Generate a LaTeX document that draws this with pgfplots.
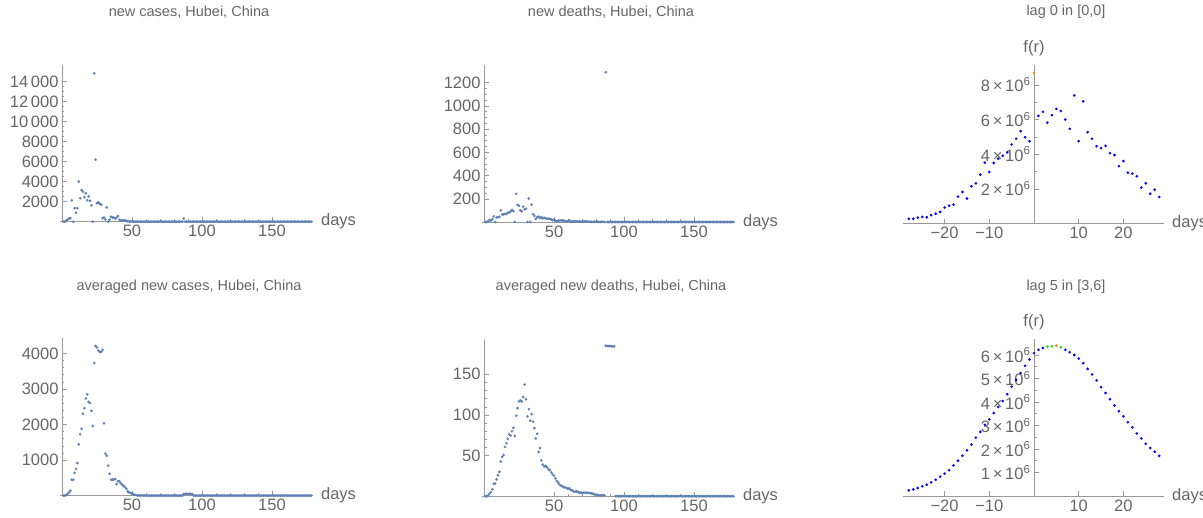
\documentclass[border=0pt]{standalone}
\usepackage{pgfplots}
\pgfplotsset{compat=1.18}
\usepackage{pgfplotstable}
\usepackage{fontspec}
\setmainfont{Liberation Sans}
\definecolor{mblue}{rgb}{0.368417,0.506779,0.709798}
\definecolor{tgray}{rgb}{0.4,0.4,0.4}
\definecolor{agray}{rgb}{0.6,0.6,0.6}
\definecolor{morange}{rgb}{1,0.5,0}
\definecolor{mgreen}{rgb}{0.1,0.85,0.1}
\newcommand{\sci}[1]{#1\,×\,10\textsuperscript{6}}

\pgfplotstableread{
d c k ac ak
1 0 0 0 0
2 0 0 0 0
3 105 7 15 1.0
4 212 16 45 3.3
5 297 12 88 5.0
6 365 24 140 8.4
7 2131 49 444 15.4
8 0 0 444 15.4
9 1349 37 637 20.7
10 903 42 751 25.7
11 1347 45 913 29.9
12 4024 101 1446 42.6
13 2345 64 1728 48.3
14 3156 65 1875 50.6
15 2987 70 2302 60.6
16 2447 69 2458 65.1
17 2841 81 2735 70.7
18 2147 81 2850 75.9
19 2531 91 2636 74.4
20 2097 103 2601 80.0
21 1638 94 2384 84.1
22 0 0 1957 74.1
23 14840 242 3728 98.9
24 6200 147 4208 108.3
25 1843 139 4164 116.6
26 1933 100 4079 117.9
27 1807 93 4037 116.4
28 1693 132 4045 121.9
29 349 108 4095 137.3
30 411 115 2034 119.1
31 220 0 1179 98.1
32 1422 202 1119 107.1
33 0 0 843 92.9
34 203 149 614 100.9
35 499 68 443 91.7
36 401 52 451 83.7
37 409 26 451 71.0
38 318 41 465 76.9
39 423 45 322 54.4
40 570 34 403 59.3
41 196 42 402 44.0
42 114 32 347 38.9
43 115 36 306 36.6
44 134 31 267 37.3
45 126 29 240 35.6
46 74 28 190 33.1
47 41 27 114 32.1
48 17 22 89 29.3
49 13 16 74 27.0
50 8 22 59 25.0
51 5 10 41 22.0
52 4 6 23 18.7
53 4 13 13 16.6
54 4 10 8 14.1
55 1 14 5.6 13.0
56 1 12 3.9 12.4
57 0 11 2.7 10.9
58 0 8 2.0 10.6
59 0 3 1.4 10.1
60 0 6 0.9 9.1
61 0 14 0.3 9.7
62 0 0 0.1 7.7
63 0 7 0 7.0
64 0 3 0 5.9
65 0 6 0 5.6
66 0 5 0 5.9
67 0 3 0 5.4
68 0 5 0 4.1
69 0 4 0 4.7
70 0 1 0 3.9
71 0 6 0 4.3
72 0 6 0 4.3
73 0 4 0 4.1
74 0 4 0 4.3
75 0 3 0 4.0
76 0 2 0 3.7
77 0 0 0 3.6
78 0 1 0 2.9
79 0 2 0 2.3
80 0 1 0 1.9
81 0 3 0 1.7
82 0 0 0 1.3
83 0 0 0 1.0
84 0 2 0 1.3
85 0 1 0 1.3
86 0 0 0 1.0
87 325 1290 46.4 185.1
88 0 0 46.4 184.7
89 0 0 46.4 184.7
90 0 0 46.4 184.7
91 0 0 46.4 184.4
92 0 0 46.4 184.3
93 0 0 46.4 184.3
94 0 0 0 0
95 0 0 0 0
96 0 0 0 0
97 0 0 0 0
98 0 0 0 0
99 0 0 0 0
100 0 0 0 0
101 0 0 0 0
102 0 0 0 0
103 0 0 0 0
104 0 0 0 0
105 0 0 0 0
106 0 0 0 0
107 0 0 0 0
108 0 0 0 0
109 0 0 0 0
110 0 0 0 0
111 0 0 0 0
112 0 0 0 0
113 0 0 0 0
114 0 0 0 0
115 0 0 0 0
116 0 0 0 0
117 0 0 0 0
118 0 0 0 0
119 0 0 0 0
120 0 0 0 0
121 0 0 0 0
122 0 0 0 0
123 0 0 0 0
124 0 0 0 0
125 0 0 0 0
126 0 0 0 0
127 0 0 0 0
128 0 0 0 0
129 0 0 0 0
130 0 0 0 0
131 0 0 0 0
132 0 0 0 0
133 0 0 0 0
134 0 0 0 0
135 0 0 0 0
136 0 0 0 0
137 0 0 0 0
138 0 0 0 0
139 0 0 0 0
140 0 0 0 0
141 0 0 0 0
142 0 0 0 0
143 0 0 0 0
144 0 0 0 0
145 0 0 0 0
146 0 0 0 0
147 0 0 0 0
148 0 0 0 0
149 0 0 0 0
150 0 0 0 0
151 0 0 0 0
152 0 0 0 0
153 0 0 0 0
154 0 0 0 0
155 0 0 0 0
156 0 0 0 0
157 0 0 0 0
158 0 0 0 0
159 0 0 0 0
160 0 0 0 0
161 0 0 0 0
162 0 0 0 0
163 0 0 0 0
164 0 0 0 0
165 0 0 0 0
166 0 0 0 0
167 0 0 0 0
168 0 0 0 0
169 0 0 0 0
170 0 0 0 0
171 0 0 0 0
172 0 0 0 0
173 0 0 0 0
174 0 0 0 0
175 0 0 0 0
176 0 0 0 0
177 0 0 0 0
178 0 0 0 0
}\hubei

\pgfplotsset{
 mma/.style={
  axis lines=middle,
  axis line style={agray, line width=0.6pt, -},
  every inner x axis line/.append style={-},
  every inner y axis line/.append style={-},
  tick align=inside,
  major tick length=4.5pt, minor tick length=2.5pt,
  tick style={agray, line width=0.5pt},
  tick label style={font=\fontsize{16.5}{16.5}\selectfont, text=tgray},
  /pgf/number format/assume math mode=true,
  /pgf/number format/1000 sep={},
  scaled x ticks=false, scaled y ticks=false,
  clip=false,
  anchor=origin,
  xlabel=days,
  every axis x label/.style={at={(axis description cs:1,0)}, anchor=west, font=\fontsize{16.5}{16.5}\selectfont, text=tgray, xshift=5pt},
 },
 dayax/.style={x=1.4pt, xmin=-1.5, xmax=179, ymin=0, xtick={50,100,150}, minor x tick num=4},
 lagax/.style={x=4.47pt, xmin=-29.3, xmax=29, ymin=0, xtick={-20,-10,10,20},
  xticklabels={−20,−10,10,20}, minor x tick num=4,
  ylabel={f(r)},
  every axis y label/.style={at={(axis cs:0,#1)}, anchor=south, font=\fontsize{16.5}{16.5}\selectfont, text=tgray, yshift=5pt}},
 dots/.style={only marks, mark=*, mark size=1.3pt, color=#1, mark options={draw=#1, fill=#1, line width=0.1pt}},
 dots/.default=mblue,
}

\begin{document}
\begin{tikzpicture}
\path[use as bounding box] (0pt,0pt) rectangle (1203pt,518pt);

% top left
\begin{axis}[mma, dayax, at={(62pt,296.3pt)}, y=0.01pt, ymax=15700,
  ytick={2000,4000,6000,8000,10000,12000,14000},
  yticklabels={2000,4000,6000,8000,10\,000,12\,000,14\,000}, minor y tick num=3]
\addplot[dots] table[x=d,y=c]{\hubei};
\end{axis}

% top middle
\begin{axis}[mma, dayax, at={(484pt,296pt)}, y=0.1161pt, ymax=1352,
  ytick={200,400,600,800,1000,1200}, minor y tick num=3]
\addplot[dots] table[x=d,y=k]{\hubei};
\end{axis}

% top right
\begin{axis}[mma, lagax=9.15, at={(1034pt,294.5pt)}, y=17.33pt, ymax=9.15,
  ytick={2,4,6,8}, yticklabels={\sci{2},\sci{4},\sci{6},\sci{8}}, minor y tick num=1]
\addplot[dots=blue] coordinates {(-28,0.27)(-27,0.27)(-26,0.34)(-25,0.38)(-24,0.36)(-23,0.48)(-22,0.56)(-21,0.67)(-20,0.92)(-19,1.03)(-18,1.09)(-17,1.55)(-16,1.82)(-15,1.44)(-14,2.15)(-13,2.32)(-12,2.82)(-11,3.51)(-10,2.97)(-9,3.49)(-8,3.74)(-7,3.91)(-6,4.10)(-5,4.56)(-4,4.89)(-3,5.33)(-2,4.98)(-1,4.75)(1,6.21)(2,6.44)(3,5.82)(4,6.25)(5,6.61)(6,6.49)(7,6.00)(8,5.46)(9,7.39)(10,4.75)(11,7.05)(12,5.27)(13,4.89)(14,4.46)(15,4.35)(16,4.48)(17,4.06)(18,3.95)(19,3.31)(20,3.60)(21,2.93)(22,2.88)(23,2.72)(24,2.07)(25,2.32)(26,1.72)(27,1.95)(28,1.53)};
\addplot[dots=morange] coordinates {(0,8.68)};
\end{axis}

% bottom left
\begin{axis}[mma, dayax, at={(62pt,22.4pt)}, y=0.03556pt, ymax=4432,
  ytick={1000,2000,3000,4000}, minor y tick num=4]
\addplot[dots] table[x=d,y=ac]{\hubei};
\end{axis}

% bottom middle
\begin{axis}[mma, dayax, at={(484pt,21.8pt)}, y=0.813pt, ymax=192,
  ytick={50,100,150}, minor y tick num=4]
\addplot[dots] table[x=d,y=ak]{\hubei};
\end{axis}

% bottom right
\begin{axis}[mma, lagax=6.7, at={(1034pt,22pt)}, y=23.5pt, ymax=6.7,
  ytick={1,2,3,4,5,6}, yticklabels={\sci{1},\sci{2},\sci{3},\sci{4},\sci{5},\sci{6}}, minor y tick num=1]
\addplot[dots=blue] coordinates {(-28,0.24)(-27,0.28)(-26,0.34)(-25,0.41)(-24,0.48)(-23,0.58)(-22,0.69)(-21,0.82)(-20,0.95)(-19,1.10)(-18,1.30)(-17,1.50)(-16,1.71)(-15,1.94)(-14,2.19)(-13,2.48)(-12,2.73)(-11,3.03)(-10,3.26)(-9,3.53)(-8,3.79)(-7,4.04)(-6,4.33)(-5,4.65)(-4,4.94)(-3,5.23)(-2,5.54)(-1,5.81)(0,6.08)(1,6.22)(2,6.30)(7,6.22)(8,6.12)(9,6.00)(10,5.85)(11,5.65)(12,5.41)(13,5.17)(14,4.92)(15,4.63)(16,4.38)(17,4.12)(18,3.85)(19,3.61)(20,3.39)(21,3.14)(22,2.92)(23,2.66)(24,2.45)(25,2.22)(26,2.04)(27,1.88)(28,1.71)};
\addplot[dots=mgreen] coordinates {(3,6.36)(4,6.37)(6,6.33)};
\addplot[dots=morange] coordinates {(5,6.40)};
\end{axis}

\begin{scope}[every node/.style={font=\fontsize{14.5}{14.5}\selectfont, text=tgray}]
\node at (189pt,506pt) {new cases, Hubei, China};
\node at (611pt,506pt) {new deaths, Hubei, China};
\node at (1066pt,506pt) {lag 0 in [0,0]};
\node at (189pt,231pt) {averaged new cases, Hubei, China};
\node at (611pt,231pt) {averaged new deaths, Hubei, China};
\node at (1066pt,231pt) {lag 5 in [3,6]};
\end{scope}
\end{tikzpicture}
\end{document}
